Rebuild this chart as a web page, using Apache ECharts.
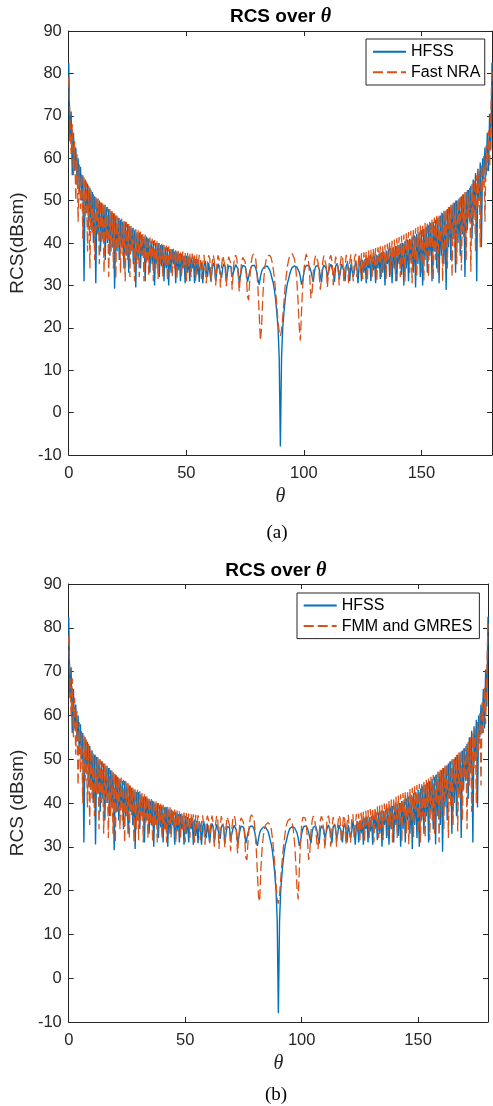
<!DOCTYPE html>
<html><head><meta charset="utf-8">
<script src="https://cdn.jsdelivr.net/npm/echarts@6/dist/echarts.min.js"></script>
<style>html,body{margin:0;padding:0;background:#fff}#c{width:493px;height:1106px}</style>
</head><body><div id="c"></div>
<script>
// theta sampling grid: 0 .. 180 deg, step 0.5 (361 samples)
const thetaStart = 0, thetaStep = 0.5, thetaCount = 361;

// HFSS (same reference data in both panels); each row covers 10 degrees
const hfss = [
 82.4,64,71,56,66,57,62.5,55,60,52,58,50,56,31,55,47,54,44,53,43,
 52,40,51,30.5,50.5,42,50,38,49.5,41,49,36,48.5,40,48,37,47.5,39,47,29.2,
 46.5,38,46,36,45.5,39,45,34,45,37,44.5,33,44,38,43.5,35,43,29.5,42.5,36,
 42.5,34,42,37,41.5,31,41.5,36,41,33,40.5,35,40.5,30,40,35,40,32,39.5,34.5,
 39.5,31,39,34,39,30,38.5,33,38.5,35,38,30.5,38,33.5,37.5,31,37.5,34,37,30.5,
 37,33,36.8,31,36.5,34,36.5,30.5,36.2,32.5,36,30.8,35.8,34.8,30.5,34.5,35.8,33.5,32,35.3,
 35,31,33.8,35.3,34.6,31,33.5,35.1,35,33,31.8,34.3,35.1,34.5,30.8,33,34.6,35,34.4,32,
 32,34,34.9,34.8,33.8,30.7,32.2,33.8,34.7,34.9,34.5,33.4,30.8,32,33.3,34.2,34.7,34.9,34.7,34.1,
 33,31.2,30.2,32,33.2,33.9,34.3,34.5,34.6,34.5,34.2,33.6,32.7,31.5,30.5,28.8,26.5,23.5,20,13,
 -8,13,20,23.5,26.5,28.8,30.5,31.5,32.7,33.6,34.2,34.5,34.6,34.5,34.3,33.9,33.2,32,30.2,31.2,
 33,34.1,34.7,34.9,34.7,34.2,33.3,32,30.8,33.4,34.5,34.9,34.7,33.8,32.2,30.7,33.8,34.8,34.9,34,
 32,32,34.4,35,34.6,33,30.8,34.5,35.1,34.3,31.8,33,35,35.1,33.5,31,34.6,35.3,33.8,31,
 35,35.3,32,33.5,35.8,34.5,30.5,34.8,35.8,31,36,33,36.2,30.5,36.5,34,36.6,31,36.8,33.5,
 37,30.5,37.2,34,37.5,31.5,37.8,33,38,30,38.2,35,38.5,32,38.8,30.5,39,34,39.3,31,
 39.5,35,39.8,32.5,40,30,40.5,34,40.8,31,41,36,41.5,33,41.8,29.5,42.2,35,42.5,32,
 43,30,43.3,36,43.8,33,44.2,37,44.7,31,45,38,45.5,34,46,30.5,46.5,37,47,35,
 47.5,28.9,48,39,48.5,36,49,41,49.5,33,50,40,50.5,37,51,42,51.5,32,52,43,
 52.5,45,53.5,41,55,47,56.5,31,57.5,50,59,39,60,55,62.5,56,66,57,70.5,62,
 82.5
];

// Fast NRA (panel a)
const fastNRA = [
 79,70,61,68,56,64,50,61,45,58.5,48,56.5,41,55.5,46,54.5,38,53.5,34,52.5,
 42,51.5,36,51,43,50.5,35,50,40,49.5,33,49,41,48.5,32,48,38,47.5,34,47,
 31.5,46.5,39,46,33,45.8,37,45.3,31,45,36,44.5,32,44,38,43.6,31,43.3,35,43,
 32,42.7,37,42.3,31,42,35,41.7,32.5,41.3,36,41,31,40.7,34,40.4,31.5,40,35,39.8,
 32,39.6,34.5,39.4,31,39.2,35,39,32,38.7,34,38.5,31.5,38.3,35,38.1,32,38,34,37.8,
 31,37.7,34.5,37.6,32,37.5,35,37.4,31,37.3,34,37.2,36,31.5,35.5,37.2,34,30.5,35.5,37.1,
 36.2,30.8,35.5,37.1,35.5,30,35,37.1,36,29.5,34.5,37,36.8,34.5,29.8,34.5,36.8,37,35,29,
 34,36.6,37.1,36.2,33,28.5,32.5,35.5,36.6,36.7,35.6,32.5,27.5,26.5,31.5,35,36.8,37.4,37.4,36.2,
 33.5,29,23,17,20,27,31.8,34.6,36.2,37,37.2,37.1,36.6,35.5,33.8,31.5,28.5,25,21.5,19,
 18,19.5,22.5,26,29.5,32.3,34.5,36,37,37.4,37.5,37.2,36.2,34.3,31.2,26.5,20.5,17,24,30,
 33.5,36,37.4,37.3,35.5,32,27,28.5,33,35.8,37.1,37,35.5,32.5,29,32,35.5,37,36.8,34.5,
 29.5,33.5,36.5,37.1,35.5,30,34,36.8,37,34.5,30,35,37.2,36.5,31,34,37.2,36.3,30.5,35.5,
 37.3,34,31,36.5,37.4,32,34.5,37.5,33,37.6,31.5,37.8,34,38,31,38.2,35,38.4,32,38.6,
 34.5,38.8,31,39,35.5,39.2,32,39.4,34,39.6,31.5,39.9,36,40.2,32.5,40.5,34.5,40.8,31,41.1,
 36,41.4,32,41.7,35,42,31,42.3,37,42.6,33,42.9,30.5,43.2,36,43.5,32,43.8,38,44.1,
 33,44.4,31,44.7,37,45,32,45.3,39,45.6,31.5,46,36,46.4,33,46.8,40,47.2,31,47.6,
 38,48,34,48.5,42,49,32,49.5,39,50,35,50.5,44,51,33.5,51.5,41,52,36,52.5,
 46,53,33.2,54,44,55,38,56,48,57,39,58.5,52,60.5,45,63,57,66.5,58,70,
 80.8
];

// FMM and GMRES (panel b)
const fmmGMRES = [
 78,69,60,68.5,55,64,51,61,44,58.5,47,56.5,40,55.5,45,54.5,39,53.5,35,52.5,
 41,51.5,37,51,42,50.5,34,50,40,49.5,33,49,40,48.5,32,48,37,47.5,33,47,
 31,46.5,38,46,34,45.8,36,45.3,31,45,37,44.5,32,44,37,43.6,31,43.3,34,43,
 31.5,42.7,36,42.3,31,42,35,41.7,32,41.3,35,41,31,40.7,34.5,40.4,31,40,35,39.8,
 32,39.6,34,39.4,31,39.2,35,39,32,38.7,34.5,38.5,31,38.3,35,38.1,32,38,34,37.8,
 31,37.7,34.5,37.6,32,37.5,35,37.4,31,37.3,34,37.2,36,31.5,35.5,37.2,34,30.5,35.5,37.1,
 36.2,30.8,35.5,37.1,35.5,30,35,37.1,36,29.5,34.5,37,36.8,34.5,29.8,34.5,36.8,37,35,29,
 34,36.6,37.1,36.2,33,28.5,32.5,35.5,36.6,36.7,35.6,32.5,27.5,27,31.5,35,36.8,37.3,37.4,36.5,
 33.8,29.5,24,18.5,17.5,25,29.5,32.3,34,35,35.4,35.5,35.5,35,33.8,31.8,29,25.5,21.5,18,
 17,19,22.5,26,29,31.5,33.5,35,35.9,36.3,36.4,36.1,35.2,33.5,30.5,26,20.5,18,25,31,
 35,36.7,37,36.6,35,31.5,27,29,33.5,36,37,36.5,34.5,31,29.5,33,36,37,36.2,33,
 29.5,33.5,36.5,37.1,35.5,30,34,36.8,37,34.5,30,35,37.2,36.5,31,34,37.2,36.3,30.5,35.5,
 37.3,34,31,36.5,37.4,32,34.5,37.5,33,37.6,31.5,37.8,34,38,31,38.2,35,38.4,32,38.6,
 34.5,38.8,31,39,35.5,39.2,32,39.4,34,39.6,31.5,39.9,36,40.2,32.5,40.5,34.5,40.8,31,41.1,
 36,41.4,32,41.7,35,42,31,42.3,37,42.6,33,42.9,30.5,43.2,36,43.5,32,43.8,38,44.1,
 33,44.4,31,44.7,37,45,32,45.3,39,45.6,31.5,46,36,46.4,33,46.8,40,47.2,31,47.6,
 38,48,34,48.5,42,49,32,49.5,39,50,35,50.5,44,51,33.5,51.5,41,52,36,52.5,
 46,53,34,54,44,55,38,56,48,57,40,58.5,52,60.5,44,63,56,66.5,58,70,
 81
];

const xMin = 0, xMax = 180, xInterval = 50;
const yMin = -10, yMax = 90, yInterval = 10;
const panelTitles = ['RCS over ', 'RCS over '];
const panelCaptions = ['(a)', '(b)'];
const yNames = ['RCS(dBsm)', 'RCS (dBsm)'];
const legendNames = [['HFSS', 'Fast NRA'], ['HFSS', 'FMM and GMRES']];

const theta = [];
for (let i = 0; i < thetaCount; i++) theta.push(thetaStart + i * thetaStep);
const pairs = vals => vals.map((v, i) => [theta[i], v]);

const AX = '#262626';
const BLUE = '#0072BD', ORANGE = '#D95319';
const grids = [
  {left: 68, top: 31, width: 424, height: 424},
  {left: 63, top: 584, width: 425, height: 438}
];

const xAxes = [], yAxes = [];
grids.forEach((g, gi) => {
  const common = {gridIndex: gi, type: 'value', min: xMin, max: xMax, interval: xInterval,
    splitLine: {show: false},
    axisLine: {show: true, onZero: false, lineStyle: {color: AX, width: 1}},
    axisTick: {show: true, inside: true, length: 5, lineStyle: {color: AX, width: 1}}};
  xAxes.push(Object.assign({}, common, {position: 'bottom',
    axisLabel: {show: true, margin: 10, color: AX, fontSize: 16.5, fontFamily: 'Liberation Sans', showMaxLabel: false},
    name: 'θ', nameLocation: 'middle', nameGap: 32,
    nameTextStyle: {fontFamily: 'Liberation Serif', fontStyle: 'italic', fontSize: 20, color: AX}}));
  xAxes.push(Object.assign({}, common, {position: 'top', axisLabel: {show: false}}));
  const ycommon = {gridIndex: gi, type: 'value', min: yMin, max: yMax, interval: yInterval,
    splitLine: {show: false},
    axisLine: {show: true, onZero: false, lineStyle: {color: AX, width: 1}},
    axisTick: {show: true, inside: true, length: 5, lineStyle: {color: AX, width: 1}}};
  yAxes.push(Object.assign({}, ycommon, {position: 'left',
    axisLabel: {show: true, margin: 7, color: AX, fontSize: 16.5, fontFamily: 'Liberation Sans'},
    name: yNames[gi], nameLocation: 'middle', nameGap: gi === 0 ? 39 : 38, nameRotate: 90,
    nameTextStyle: {fontFamily: 'Liberation Sans', fontSize: 19, color: AX}}));
  yAxes.push(Object.assign({}, ycommon, {position: 'right', axisLabel: {show: false}}));
});

function lineSeries(name, vals, gi, color, dashed) {
  return {
    name: name, type: 'line', xAxisIndex: gi * 2, yAxisIndex: gi * 2,
    data: pairs(vals), showSymbol: false, symbol: 'none', animation: false,
    lineStyle: {color: color, width: dashed ? 1.3 : 1.4, type: dashed ? [10, 4] : 'solid'},
    itemStyle: {color: color}, emphasis: {disabled: true}
  };
}

const legendCommon = {orient: 'vertical', itemWidth: 33, itemHeight: 14, itemGap: 2.6,
  borderColor: AX, borderWidth: 1, backgroundColor: '#fff', borderRadius: 0,
  itemStyle: {opacity: 0},
  textStyle: {fontSize: 16, fontFamily: 'Liberation Sans', color: '#000', lineHeight: 18},
  selectedMode: false};

const chart = echarts.init(document.getElementById('c'), null, {renderer: 'canvas'});
chart.setOption({
  animation: false,
  backgroundColor: '#fff',
  grid: grids,
  xAxis: xAxes,
  yAxis: yAxes,
  legend: [
    Object.assign({}, legendCommon, {data: legendNames[0], left: 366, top: 39, padding: [3.7, 4.4, 3.7, 6]}),
    Object.assign({}, legendCommon, {data: legendNames[1], left: 297, top: 593, padding: [3.5, 7, 3.5, 5.7]})
  ],
  series: [
    lineSeries(legendNames[0][0], hfss, 0, BLUE, false),
    lineSeries(legendNames[0][1], fastNRA, 0, ORANGE, true),
    lineSeries(legendNames[1][0], hfss, 1, BLUE, false),
    lineSeries(legendNames[1][1], fmmGMRES, 1, ORANGE, true)
  ],
  graphic: [
    {type: 'text', x: 280.5, y: 17, style: {text: '{n|' + panelTitles[0] + '}{t|θ}', textAlign: 'center', textVerticalAlign: 'middle',
      rich: {n: {fontFamily: 'Liberation Sans', fontWeight: 'bold', fontSize: 19, fill: '#000'},
             t: {fontFamily: 'Liberation Serif', fontWeight: 'bold', fontStyle: 'italic', fontSize: 20, fill: '#000'}}}},
    {type: 'text', x: 275.8, y: 570.7, style: {text: '{n|' + panelTitles[1] + '}{t|θ}', textAlign: 'center', textVerticalAlign: 'middle',
      rich: {n: {fontFamily: 'Liberation Sans', fontWeight: 'bold', fontSize: 19, fill: '#000'},
             t: {fontFamily: 'Liberation Serif', fontWeight: 'bold', fontStyle: 'italic', fontSize: 20, fill: '#000'}}}},
    {type: 'text', x: 277, y: 533, style: {text: panelCaptions[0], textAlign: 'center', textVerticalAlign: 'middle',
      font: '19px "Liberation Serif"', fill: '#000'}},
    {type: 'text', x: 276, y: 1095, style: {text: panelCaptions[1], textAlign: 'center', textVerticalAlign: 'middle',
      font: '19px "Liberation Serif"', fill: '#000'}}
  ]
});
</script></body></html>
